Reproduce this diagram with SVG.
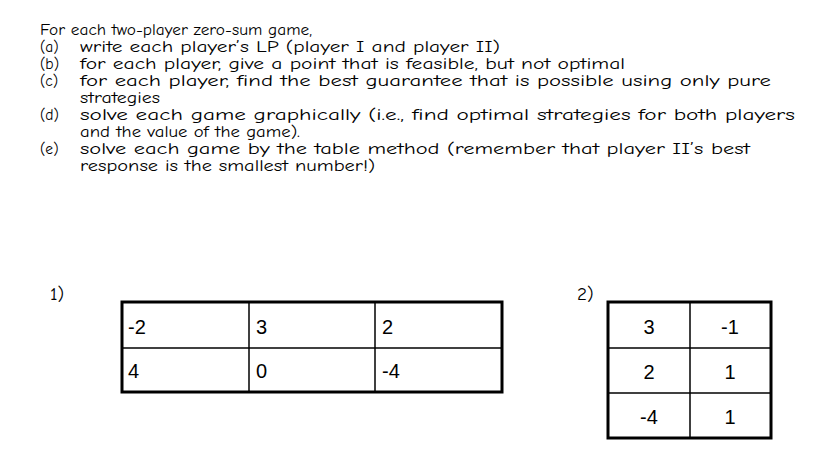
<svg xmlns="http://www.w3.org/2000/svg" width="831" height="450" viewBox="0 0 831 450">
<style>
.t{font-family:"Comic Neue","DejaVu Sans",sans-serif;font-size:15.5px;fill:#000}
.l{font-size:19px}
.n{font-family:"Liberation Sans",Arial,sans-serif;font-size:20px;fill:#000}
.c{text-anchor:middle}
.o{fill:none;stroke:#000;stroke-width:3}
.i{stroke:#000;stroke-width:1.5}
</style>
<rect width="831" height="450" fill="#fff"/>
<g id="instructions">
<text class="t" x="40" y="35" textLength="272" lengthAdjust="spacingAndGlyphs">For each two-player zero-sum game,</text>
<text class="t" x="40" y="52">(a)</text><text class="t" x="80" y="52" textLength="420" lengthAdjust="spacingAndGlyphs">write each player’s LP (player I and player II)</text>
<text class="t" x="40" y="69">(b)</text><text class="t" x="80" y="69" textLength="545" lengthAdjust="spacingAndGlyphs">for each player, give a point that is feasible, but not optimal</text>
<text class="t" x="40" y="86">(c)</text><text class="t" x="80" y="86" textLength="691" lengthAdjust="spacingAndGlyphs">for each player, find the best guarantee that is possible using only pure</text>
<text class="t" x="80" y="103" textLength="80" lengthAdjust="spacingAndGlyphs">strategies</text>
<text class="t" x="40" y="120">(d)</text><text class="t" x="80" y="120" textLength="715" lengthAdjust="spacingAndGlyphs">solve each game graphically (i.e., find optimal strategies for both players</text>
<text class="t" x="80" y="137" textLength="220" lengthAdjust="spacingAndGlyphs">and the value of the game).</text>
<text class="t" x="40" y="154">(e)</text><text class="t" x="80" y="154" textLength="670" lengthAdjust="spacingAndGlyphs">solve each game by the table method (remember that player II’s best</text>
<text class="t" x="80" y="171" textLength="295" lengthAdjust="spacingAndGlyphs">response is the smallest number!)</text>
</g>
<g id="game1">
<text class="t l" x="50" y="300">1)</text>
<line class="i" x1="249" y1="302" x2="249" y2="392"/>
<line class="i" x1="375" y1="302" x2="375" y2="392"/>
<line class="i" x1="122" y1="348" x2="502" y2="348"/>
<rect class="o" x="122" y="302" width="380" height="90"/>
<text class="n" x="128" y="334">-2</text><text class="n" x="256" y="334">3</text><text class="n" x="382" y="334">2</text>
<text class="n" x="128" y="378">4</text><text class="n" x="256" y="378">0</text><text class="n" x="382" y="378">-4</text>
</g>
<g id="game2">
<text class="t l" x="577" y="300">2)</text>
<line class="i" x1="690" y1="302" x2="690" y2="438"/>
<line class="i" x1="608" y1="348" x2="771" y2="348"/>
<line class="i" x1="608" y1="393" x2="771" y2="393"/>
<rect class="o" x="608" y="302" width="163" height="136"/>
<text class="n c" x="649" y="334">3</text><text class="n c" x="730" y="334">-1</text>
<text class="n c" x="649" y="379">2</text><text class="n c" x="730" y="379">1</text>
<text class="n c" x="649" y="424">-4</text><text class="n c" x="730" y="424">1</text>
</g>
</svg>
